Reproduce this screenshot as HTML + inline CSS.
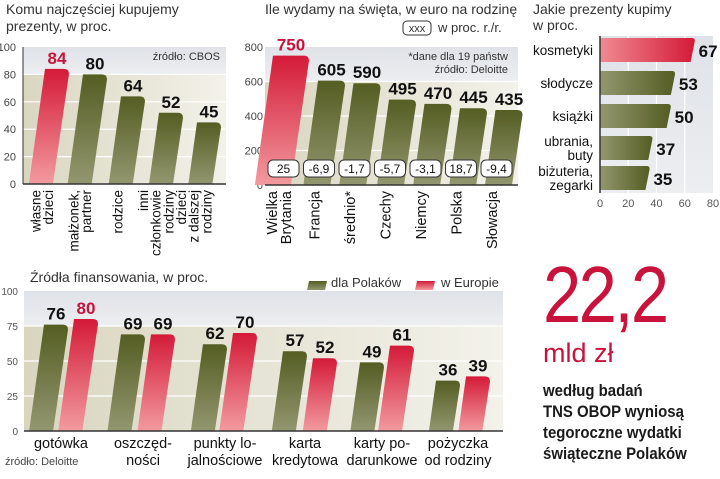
<!DOCTYPE html>
<html><head><meta charset="utf-8">
<style>
html,body{margin:0;padding:0;background:#fff;width:720px;height:479px;overflow:hidden}
svg{display:block;font-family:"Liberation Sans",sans-serif}
</style></head>
<body>
<svg id="s" width="720" height="479" viewBox="0 0 720 479">
<defs>
<linearGradient id="gG" x1="0" y1="0" x2="0" y2="1"><stop offset="0" stop-color="#545d22"/><stop offset="1" stop-color="#939770"/></linearGradient>
<linearGradient id="gR" x1="0" y1="0" x2="0" y2="1"><stop offset="0" stop-color="#d41a38"/><stop offset="1" stop-color="#f29a9f"/></linearGradient>
<linearGradient id="gGh" x1="0" y1="0" x2="1" y2="0"><stop offset="0" stop-color="#939770"/><stop offset="1" stop-color="#545d22"/></linearGradient>
<linearGradient id="gRh" x1="0" y1="0" x2="1" y2="0"><stop offset="0" stop-color="#f08a92"/><stop offset="1" stop-color="#d41a38"/></linearGradient>
<linearGradient id="bgTop" x1="0" y1="0" x2="0" y2="1"><stop offset="0" stop-color="#dfe2e8"/><stop offset="1" stop-color="#eceef0"/></linearGradient>
<linearGradient id="bgBot" x1="0" y1="0" x2="1" y2="0"><stop offset="0" stop-color="#d9d6c0"/><stop offset="1" stop-color="#f3f2ea"/></linearGradient>
</defs>
<g id="c1"></g>
<g id="c2"></g>
<g id="c3"></g>
<g id="c4"></g>
<g>
<text x="0" y="322" font-size="80" fill="#c8143c" letter-spacing="-3" transform="translate(543,0) scale(0.86,1)">22,2</text>
<text x="543" y="362" font-size="27" fill="#c8143c">mld zł</text>
<g font-size="17" fill="#1a1a1a" font-weight="bold" transform="translate(543,0) scale(0.88,1)">
<text x="0" y="396">według badań</text>
<text x="0" y="417">TNS OBOP wyniosą</text>
<text x="0" y="438">tegoroczne wydatki</text>
<text x="0" y="459">świąteczne Polaków</text>
</g></g>
</svg>
<script>
const c1Cats=[["własne","dzieci"],["małżonek,","partner"],["rodzice"],["inni","członkowie","rodziny"],["dzieci","z dalszej","rodziny"]];
const c1Vals=[84,80,64,52,45];
const c1Ticks=[0,20,40,60,80,100];
const c2Cats=[["Wielka","Brytania"],["Francja"],["średnio*"],["Czechy"],["Niemcy"],["Polska"],["Słowacja"]];
const c2Vals=[750,605,590,495,470,445,435];
const c2Chg=["25","-6,9","-1,7","-5,7","-3,1","18,7","-9,4"];
const c2Ticks=[0,200,400,600,800];
const c3Cats=[["kosmetyki"],["słodycze"],["książki"],["ubrania,","buty"],["biżuteria,","zegarki"]];
const c3Vals=[67,53,50,37,35];
const c3Ticks=[0,20,40,60,80];
const c4Cats=[["gotówka"],["oszczęd-","ności"],["punkty lo-","jalnościowe"],["karta","kredytowa"],["karty po-","darunkowe"],["pożyczka","od rodziny"]];
const c4Pl=[76,69,62,57,49,36];
const c4Eu=[80,69,70,52,61,39];
const c4Ticks=[0,25,50,75,100];

const NS="http://www.w3.org/2000/svg";
function mk(p,t,a,txt){const e=document.createElementNS(NS,t);for(const k in a)e.setAttribute(k,a[k]);if(txt!=null)e.textContent=txt;p.appendChild(e);return e;}
function bar(p,xTop,w,yTop,y0,fill){const h=y0-yTop,s=h*0.14,r=Math.min(5,h/2);
 return mk(p,"path",{d:`M${xTop-s},${y0} L${xTop},${yTop} L${xTop+w-r},${yTop} Q${xTop+w},${yTop} ${xTop+w},${yTop+r} L${xTop+w-s},${y0} Z`,fill:fill});}
function vtext(p,x,y,lines,fs,ls){const g=mk(p,"g",{transform:`translate(${x},${y}) rotate(-90)`});
 lines.forEach((l,i)=>mk(g,"text",{x:0,y:(i-(lines.length-1)/2)*(ls||fs*0.95)+fs*0.35,"font-size":fs,"text-anchor":"end",fill:"#111"},l));return g;}

// Chart 1
(function(){const g=document.getElementById('c1');
 const y0=184,y1=47,x0=23,x1=226,ys=v=>y0-(v/100)*(y0-y1);
 mk(g,"text",{x:6,y:14,"font-size":14,fill:"#333"},"Komu najczęściej kupujemy");
 mk(g,"text",{x:6,y:31,"font-size":14,fill:"#333"},"prezenty, w proc.");
 mk(g,"rect",{x:x0,y:ys(100),width:x1-x0,height:ys(80)-ys(100),fill:"url(#bgTop)"});
 mk(g,"rect",{x:x0,y:ys(80),width:x1-x0,height:ys(0)-ys(80),fill:"url(#bgBot)"});
 c1Ticks.forEach(t=>{const y=ys(t);if(t>0&&t<100)mk(g,"line",{x1:x0,x2:x1,y1:y,y2:y,stroke:"#fff","stroke-width":1.2});
  const tl=mk(g,"text",{x:16,y:y+4,"font-size":11,fill:"#444","text-anchor":"end"},t);
  });
 mk(g,"text",{x:220,y:60,"font-size":11,fill:"#333","text-anchor":"end"},"źródło: CBOS");
 c1Vals.forEach((v,i)=>{const xt=45+i*38,yt=ys(v);
  const b=bar(g,xt,24,yt,y0,i==0?"url(#gR)":"url(#gG)");
  
  const t=mk(g,"text",{x:xt+12,y:yt-5,"font-size":17,"font-weight":"bold",fill:i==0?"#c8143c":"#111","text-anchor":"middle"},v);
  
  const c=vtext(g,xt-3,190,c1Cats[i],13.5,12.8);});
 mk(g,"line",{x1:x0,x2:x1,y1:y0,y2:y0,stroke:"#333","stroke-width":1.5});
 mk(g,"line",{x1:x0,x2:x0,y1:y1,y2:y0,stroke:"#333","stroke-width":1});
})();

// Chart 2
(function(){const g=document.getElementById('c2');
 const y0=185,y1=47,x0=265,x1=518,ys=v=>y0-(v/800)*(y0-y1);
 mk(g,"text",{x:265,y:14,"font-size":14,fill:"#333"},"Ile wydamy na święta, w euro na rodzinę");
 mk(g,"rect",{x:403,y:21,width:28,height:14,rx:4,fill:"none",stroke:"#333"});
 mk(g,"text",{x:417,y:32,"font-size":11,fill:"#333","text-anchor":"middle"},"xxx");
 mk(g,"text",{x:438,y:32,"font-size":13,fill:"#333"},"w proc. r./r.");
 mk(g,"rect",{x:x0,y:ys(800),width:x1-x0,height:ys(600)-ys(800),fill:"url(#bgTop)"});
 mk(g,"rect",{x:x0,y:ys(600),width:x1-x0,height:ys(0)-ys(600),fill:"url(#bgBot)"});
 c2Ticks.forEach(t=>{const y=ys(t);if(t>0&&t<800)mk(g,"line",{x1:x0,x2:x1,y1:y,y2:y,stroke:"#fff","stroke-width":1.2});
  const tl=mk(g,"text",{x:263,y:y+4,"font-size":11,fill:"#444","text-anchor":"end"},t);
  });
 mk(g,"text",{x:508,y:60,"font-size":11,fill:"#333","text-anchor":"end"},"*dane dla 19 państw");
 mk(g,"text",{x:508,y:73,"font-size":11,fill:"#333","text-anchor":"end"},"źródło: Deloitte");
 c2Vals.forEach((v,i)=>{const w=i==0?36:27,xt=(i==0?273:318)+(i==0?0:(i-1)*35.5),yt=ys(v);
  const b=bar(g,xt,w,yt,y0,i==0?"url(#gR)":"url(#gG)");
  
  const t=mk(g,"text",{x:xt+w/2,y:yt-5,"font-size":17,"font-weight":"bold",fill:i==0?"#c8143c":"#111","text-anchor":"middle"},v);
  
  const cx=268+i*35.5+15;
  const bx=mk(g,"rect",{x:cx-15,y:160,width:31,height:17,rx:5,fill:"#fff",stroke:"#333"});
  
  mk(g,"text",{x:cx+0.5,y:173,"font-size":12,fill:"#111","text-anchor":"middle"},c2Chg[i]);
  const c=vtext(g,cx-4,191,c2Cats[i],14.5);});
 mk(g,"line",{x1:x0,x2:x1,y1:y0,y2:y0,stroke:"#333","stroke-width":1.5});
})();

// Chart 3
(function(){const g=document.getElementById('c3');
 const x0=600,x1=713,xs=v=>x0+(v/80)*(x1-x0),yt0=36,yb=193;
 mk(g,"text",{x:533,y:14,"font-size":14,fill:"#333"},"Jakie prezenty kupimy");
 mk(g,"text",{x:533,y:30,"font-size":14,fill:"#333"},"w proc.");
 mk(g,"rect",{x:x0,y:yt0,width:x1-x0,height:yb-yt0,fill:"url(#bgTop)"});
 c3Ticks.forEach(t=>{const x=xs(t);if(t>0&&t<80)mk(g,"line",{x1:x,x2:x,y1:yt0,y2:yb,stroke:"#fff","stroke-width":1.2});
  const tl=mk(g,"text",{x:x,y:207,"font-size":11,fill:"#555","text-anchor":"middle"},t);
  });
 c3Vals.forEach((v,i)=>{const yc=[50,83,116,148,178][i],h=24,xe=xs(v);
  const b=mk(g,"path",{d:`M${x0},${yc-h/2} L${xe-3},${yc-h/2} Q${xe+1},${yc-h/2} ${xe},${yc-h/2+4} L${xe-4},${yc+h/2} L${x0},${yc+h/2} Z`,fill:i==0?"url(#gRh)":"url(#gGh)"});
  
  const t=mk(g,"text",{x:xe+4,y:yc+7,"font-size":17,"font-weight":"bold",fill:"#111"},v);
  
  const L=c3Cats[i];L.forEach((l,j)=>{const c=mk(g,"text",{x:593,y:yc+5+(j-(L.length-1)/2)*14,"font-size":13.5,fill:"#111","text-anchor":"end"},l);
   });});
 mk(g,"line",{x1:x0,x2:x0,y1:yt0,y2:yb,stroke:"#333","stroke-width":1.5});
})();

// Chart 4
(function(){const g=document.getElementById('c4');
 const y0=431,y1=291,x0=24,x1=503,ys=v=>y0-(v/100)*(y0-y1);
 mk(g,"text",{x:30,y:282,"font-size":14,fill:"#333"},"Źródła finansowania, w proc.");
 const l1=mk(g,"path",{d:"M307,290 L309,281 L327,281 L325,290 Z",fill:"url(#gG)"});
 mk(g,"text",{x:331,y:287,"font-size":13,fill:"#333"},"dla Polaków");
 const l2=mk(g,"path",{d:"M415,290 L417,281 L435,281 L433,290 Z",fill:"url(#gR)"});
 mk(g,"text",{x:441,y:287,"font-size":13,fill:"#333"},"w Europie");
 mk(g,"rect",{x:x0,y:ys(100),width:x1-x0,height:ys(75)-ys(100),fill:"url(#bgTop)"});
 mk(g,"rect",{x:x0,y:ys(75),width:x1-x0,height:ys(0)-ys(75),fill:"url(#bgBot)"});
 c4Ticks.forEach(t=>{const y=ys(t);if(t>0&&t<100)mk(g,"line",{x1:x0,x2:x1,y1:y,y2:y,stroke:"#fff","stroke-width":1.2});
  const tl=mk(g,"text",{x:18,y:y+4,"font-size":10,fill:"#555","text-anchor":"end"},t);
  });
 const gx=[44,121,203,283,360,436];
 c4Pl.forEach((v,i)=>{[[v,"url(#gG)",0,"#111"],[c4Eu[i],"url(#gR)",30,i==0?"#c8143c":"#111"]].forEach(([val,f,dx,tc],k)=>{
  const xt=gx[i]+dx,yt=ys(val);const b=bar(g,xt,24,yt,y0,f);
  
  const t=mk(g,"text",{x:xt+12,y:yt-5,"font-size":17,"font-weight":"bold",fill:tc,"text-anchor":"middle"},val);
  });
  const cx=gx[i]+22;c4Cats[i].forEach((l,j)=>{const c=mk(g,"text",{x:cx+(i==0?-5:0),y:448+j*17,"font-size":14.5,fill:"#111","text-anchor":"middle"},l);
   });});
 mk(g,"line",{x1:x0,x2:x1,y1:y0,y2:y0,stroke:"#333","stroke-width":1.5});
 mk(g,"text",{x:5,y:465,"font-size":11,fill:"#444"},"źródło: Deloitte");
})();
</script>
</body></html>
